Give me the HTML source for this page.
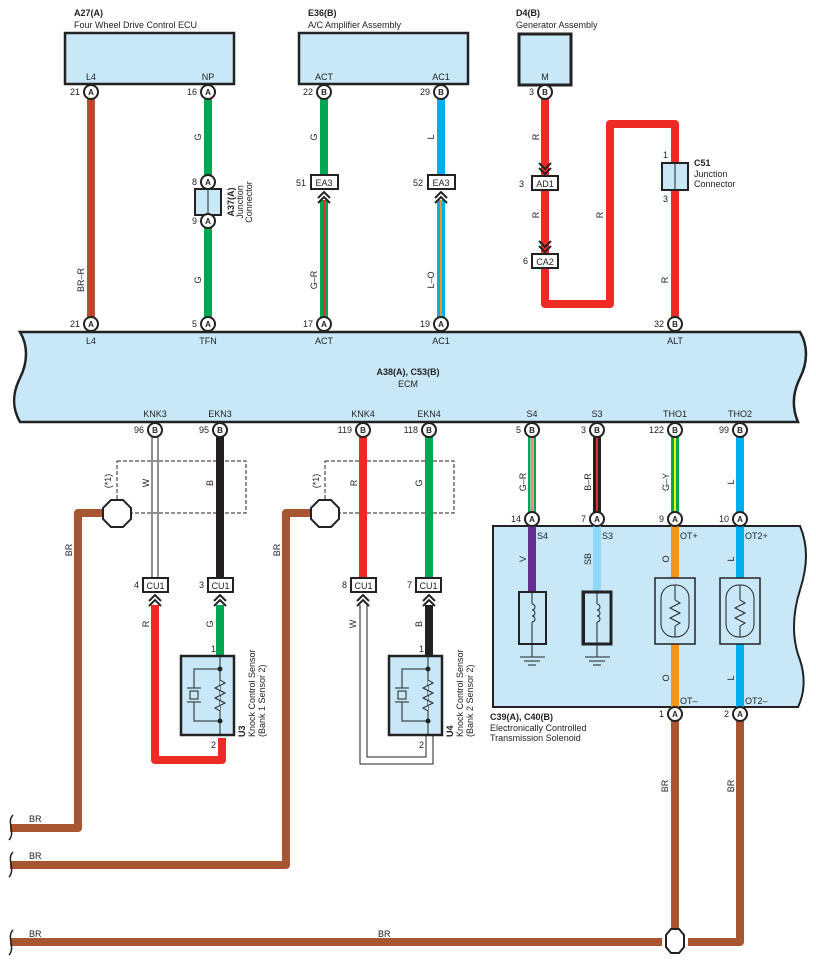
<!DOCTYPE html>
<html><head><meta charset="utf-8"><style>
html,body{margin:0;padding:0;background:#fff;}
svg{display:block;font-family:"Liberation Sans",sans-serif;}
text{font-size:9px;fill:#222;}
.b{font-weight:bold;}
.pin{fill:#fff;stroke:#222;stroke-width:2;}
.pl{font-size:8px;font-weight:bold;text-anchor:middle;}
.box{fill:#c8e8f8;stroke:#222;stroke-width:2.5;}
.w{fill:none;stroke-width:8;stroke-linejoin:round;}
.cb{fill:#fff;stroke:#222;stroke-width:2;}
.ch{fill:none;stroke:#222;stroke-width:2;}
</style></head><body>
<svg width="816" height="966" viewBox="0 0 816 966" xmlns="http://www.w3.org/2000/svg">

<!-- Top component boxes -->
<text x="74" y="16" class="b">A27(A)</text>
<text x="74" y="28">Four Wheel Drive Control ECU</text>
<rect x="65" y="33" width="169" height="51" class="box"/>
<text x="91" y="80" text-anchor="middle">L4</text>
<text x="208" y="80" text-anchor="middle">NP</text>

<text x="308" y="16" class="b">E36(B)</text>
<text x="308" y="28">A/C Amplifier Assembly</text>
<rect x="299" y="33" width="169" height="51" class="box"/>
<text x="324" y="80" text-anchor="middle">ACT</text>
<text x="441" y="80" text-anchor="middle">AC1</text>

<text x="516" y="16" class="b">D4(B)</text>
<text x="516" y="28">Generator Assembly</text>
<rect x="519" y="34" width="52" height="51" class="box" style="stroke-width:3"/>
<text x="545" y="80" text-anchor="middle">M</text>

<!-- Top wires -->
<line x1="91" y1="99" x2="91" y2="318" stroke="#a85632" stroke-width="8"/>
<line x1="91" y1="99" x2="91" y2="318" stroke="#ee2a24" stroke-width="2"/>
<text transform="translate(84,280) rotate(-90)" text-anchor="middle">BR–R</text>

<line x1="208" y1="99" x2="208" y2="176" stroke="#00a651" stroke-width="8"/>
<line x1="208" y1="228" x2="208" y2="318" stroke="#00a651" stroke-width="8"/>
<text transform="translate(201,137) rotate(-90)" text-anchor="middle">G</text>
<text transform="translate(201,280) rotate(-90)" text-anchor="middle">G</text>
<rect x="195" y="189" width="26" height="26" class="box" style="stroke-width:2"/>
<line x1="208" y1="189" x2="208" y2="215" stroke="#222" stroke-width="1"/>
<text transform="translate(234,202) rotate(-90)" text-anchor="middle" class="b">A37(A)</text>
<text transform="translate(243,202) rotate(-90)" text-anchor="middle">Junction</text>
<text transform="translate(252,202) rotate(-90)" text-anchor="middle">Connector</text>

<line x1="324" y1="99" x2="324" y2="176" stroke="#00a651" stroke-width="8"/>
<line x1="324" y1="200" x2="324" y2="318" stroke="#00a651" stroke-width="8"/>
<line x1="324" y1="200" x2="324" y2="318" stroke="#ee2a24" stroke-width="2"/>
<text transform="translate(317,137) rotate(-90)" text-anchor="middle">G</text>
<text transform="translate(317,280) rotate(-90)" text-anchor="middle">G–R</text>

<line x1="441" y1="99" x2="441" y2="176" stroke="#00aeef" stroke-width="8"/>
<line x1="441" y1="200" x2="441" y2="318" stroke="#00aeef" stroke-width="8"/>
<line x1="441" y1="200" x2="441" y2="318" stroke="#f7941d" stroke-width="2"/>
<text transform="translate(434,137) rotate(-90)" text-anchor="middle">L</text>
<text transform="translate(434,280) rotate(-90)" text-anchor="middle">L–O</text>

<!-- generator red -->
<polyline points="545,99 545,175" class="w" stroke="#ee2a24"/>
<polyline points="545,190 545,253" class="w" stroke="#ee2a24"/>
<polyline points="545,268 545,304 610,304 610,124 675,124 675,164" class="w" stroke="#ee2a24"/>
<polyline points="675,190 675,318" class="w" stroke="#ee2a24"/>
<text transform="translate(539,137) rotate(-90)" text-anchor="middle">R</text>
<text transform="translate(539,215) rotate(-90)" text-anchor="middle">R</text>
<text transform="translate(603,215) rotate(-90)" text-anchor="middle">R</text>
<text transform="translate(668,280) rotate(-90)" text-anchor="middle">R</text>
<polyline points="539,163 545,169 551,163" class="ch"/>
<polyline points="539,168 545,174 551,168" class="ch"/>
<polyline points="539,241 545,247 551,241" class="ch"/>
<polyline points="539,246 545,252 551,246" class="ch"/>
<rect x="532" y="176" width="26" height="14" class="cb"/>
<text x="545" y="187" text-anchor="middle">AD1</text>
<text x="524" y="187" text-anchor="end">3</text>
<rect x="532" y="254" width="26" height="14" class="cb"/>
<text x="545" y="265" text-anchor="middle">CA2</text>
<text x="528" y="264" text-anchor="end">6</text>
<rect x="662" y="163" width="26" height="27" class="box" style="stroke-width:2"/>
<line x1="675" y1="163" x2="675" y2="190" stroke="#222" stroke-width="1"/>
<text x="668" y="158" text-anchor="end">1</text>
<text x="668" y="202" text-anchor="end">3</text>
<text x="694" y="166" class="b">C51</text>
<text x="694" y="177">Junction</text>
<text x="694" y="187">Connector</text>

<!-- EA3 boxes -->
<rect x="311" y="175" width="27" height="14" class="cb"/>
<text x="324" y="186" text-anchor="middle">EA3</text>
<text x="306" y="186" text-anchor="end">51</text>
<polyline points="318,198 324,192 330,198" class="ch"/>
<polyline points="318,203 324,197 330,203" class="ch"/>
<rect x="428" y="175" width="27" height="14" class="cb"/>
<text x="441" y="186" text-anchor="middle">EA3</text>
<text x="423" y="186" text-anchor="end">52</text>
<polyline points="435,198 441,192 447,198" class="ch"/>
<polyline points="435,203 441,197 447,203" class="ch"/>

<!-- ECM -->
<path d="M20,332 L800,332 C808,345 808,362 800,378 C792,394 792,408 798,422 L20,422 C12,408 12,394 20,378 C28,362 28,345 20,332 Z" class="box" style="stroke-width:2.5"/>
<text x="408" y="375" text-anchor="middle" class="b">A38(A), C53(B)</text>
<text x="408" y="387" text-anchor="middle">ECM</text>
<text x="91" y="344" text-anchor="middle">L4</text>
<text x="208" y="344" text-anchor="middle">TFN</text>
<text x="324" y="344" text-anchor="middle">ACT</text>
<text x="441" y="344" text-anchor="middle">AC1</text>
<text x="675" y="344" text-anchor="middle">ALT</text>
<text x="155" y="417" text-anchor="middle">KNK3</text>
<text x="220" y="417" text-anchor="middle">EKN3</text>
<text x="363" y="417" text-anchor="middle">KNK4</text>
<text x="429" y="417" text-anchor="middle">EKN4</text>
<text x="532" y="417" text-anchor="middle">S4</text>
<text x="597" y="417" text-anchor="middle">S3</text>
<text x="675" y="417" text-anchor="middle">THO1</text>
<text x="740" y="417" text-anchor="middle">THO2</text>

<!-- Bottom dashed boxes & shields -->
<rect x="117" y="461" width="129" height="52" fill="none" stroke="#222" stroke-width="1" stroke-dasharray="4,2"/>
<rect x="325" y="461" width="129" height="52" fill="none" stroke="#222" stroke-width="1" stroke-dasharray="4,2"/>
<text transform="translate(111,481) rotate(-90)" text-anchor="middle">(*1)</text>
<text transform="translate(319,481) rotate(-90)" text-anchor="middle">(*1)</text>

<!-- BR grounds -->
<polyline points="104,513 78,513 78,828 10,828" class="w" stroke="#a85632"/>
<polyline points="312,513 286,513 286,865 10,865" class="w" stroke="#a85632"/>
<polyline points="675,721 675,930" class="w" stroke="#a85632"/>
<polyline points="10,942 662,942" class="w" stroke="#a85632"/>
<polyline points="740,721 740,942 688,942" class="w" stroke="#a85632"/>
<text transform="translate(72,550) rotate(-90)" text-anchor="middle">BR</text>
<text transform="translate(280,550) rotate(-90)" text-anchor="middle">BR</text>
<text transform="translate(668,786) rotate(-90)" text-anchor="middle">BR</text>
<text transform="translate(734,786) rotate(-90)" text-anchor="middle">BR</text>
<text x="29" y="822">BR</text>
<text x="29" y="859">BR</text>
<text x="29" y="937">BR</text>
<text x="378" y="937">BR</text>
<path d="M13,815 C6,822 16,832 9,840" fill="none" stroke="#222" stroke-width="1.5"/>
<path d="M13,852 C6,859 16,869 9,877" fill="none" stroke="#222" stroke-width="1.5"/>
<path d="M13,930 C6,937 16,947 9,955" fill="none" stroke="#222" stroke-width="1.5"/>

<!-- octagons -->
<polygon points="111,500 123,500 131,508 131,519 123,527 111,527 103,519 103,508" fill="#fff" stroke="#222" stroke-width="2"/>
<polygon points="319,500 331,500 339,508 339,519 331,527 319,527 311,519 311,508" fill="#fff" stroke="#222" stroke-width="2"/>
<polygon points="671,929 679,929 684,935 684,947 679,953 671,953 666,947 666,935" fill="#fff" stroke="#222" stroke-width="2"/>

<!-- KNK3 white -->
<line x1="152" y1="437" x2="152" y2="578" stroke="#222" stroke-width="1"/>
<line x1="158" y1="437" x2="158" y2="578" stroke="#222" stroke-width="1"/>
<text transform="translate(149,483) rotate(-90)" text-anchor="middle">W</text>
<line x1="220" y1="437" x2="220" y2="578" stroke="#231f20" stroke-width="8"/>
<text transform="translate(213,483) rotate(-90)" text-anchor="middle">B</text>
<polyline points="155,605 155,760 222,760 222,738" class="w" stroke="#ee2a24"/>
<text transform="translate(149,624) rotate(-90)" text-anchor="middle">R</text>
<line x1="220" y1="605" x2="220" y2="656" stroke="#00a651" stroke-width="8"/>
<text transform="translate(213,624) rotate(-90)" text-anchor="middle">G</text>

<!-- KNK4 -->
<line x1="363" y1="437" x2="363" y2="578" stroke="#ee2a24" stroke-width="8"/>
<text transform="translate(357,483) rotate(-90)" text-anchor="middle">R</text>
<line x1="429" y1="437" x2="429" y2="578" stroke="#00a651" stroke-width="8"/>
<text transform="translate(422,483) rotate(-90)" text-anchor="middle">G</text>
<polyline points="360,605 360,764 433,764 433,736" fill="none" stroke="#222" stroke-width="1"/>
<polyline points="367,605 367,757 426,757 426,736" fill="none" stroke="#222" stroke-width="1"/>
<text transform="translate(356,624) rotate(-90)" text-anchor="middle">W</text>
<line x1="429" y1="605" x2="429" y2="656" stroke="#231f20" stroke-width="8"/>
<text transform="translate(422,624) rotate(-90)" text-anchor="middle">B</text>

<!-- CU1 boxes -->
<g>
<rect x="143" y="578" width="25" height="14" class="cb"/><text x="155.5" y="589" text-anchor="middle">CU1</text><text x="139" y="588" text-anchor="end">4</text>
<rect x="208" y="578" width="25" height="14" class="cb"/><text x="220.5" y="589" text-anchor="middle">CU1</text><text x="204" y="588" text-anchor="end">3</text>
<rect x="351" y="578" width="25" height="14" class="cb"/><text x="363.5" y="589" text-anchor="middle">CU1</text><text x="347" y="588" text-anchor="end">8</text>
<rect x="416" y="578" width="25" height="14" class="cb"/><text x="428.5" y="589" text-anchor="middle">CU1</text><text x="412" y="588" text-anchor="end">7</text>
</g>
<g class="ch">
<polyline points="149,601 155,595 161,601"/><polyline points="149,606 155,600 161,606"/>
<polyline points="214,601 220,595 226,601"/><polyline points="214,606 220,600 226,606"/>
<polyline points="357,601 363,595 369,601"/><polyline points="357,606 363,600 369,606"/>
<polyline points="423,601 429,595 435,601"/><polyline points="423,606 429,600 435,606"/>
</g>

<!-- knock sensors -->
<g id="ks">
<rect x="181" y="656" width="53" height="79" class="box" style="stroke-width:2.5"/>
<line x1="220" y1="656" x2="220" y2="735" stroke="#222" stroke-width="1"/>
<circle cx="220" cy="669" r="2.5" fill="#222"/><circle cx="220" cy="721" r="2.5" fill="#222"/>
<polyline points="220,669 194,669 194,688" fill="none" stroke="#222" stroke-width="1"/>
<polyline points="220,721 194,721 194,702" fill="none" stroke="#222" stroke-width="1"/>
<line x1="187" y1="688" x2="201" y2="688" stroke="#222" stroke-width="1"/>
<line x1="187" y1="702" x2="201" y2="702" stroke="#222" stroke-width="1"/>
<rect x="190" y="691" width="8" height="8" fill="none" stroke="#222" stroke-width="1"/>
<polyline points="220,680 225,683 215,688 225,693 215,698 225,703 215,708 220,711" fill="#c8e8f8" stroke="#222" stroke-width="1"/>
</g>
<use href="#ks" transform="translate(208,0)"/>
<text x="216" y="652" text-anchor="end">1</text><text x="216" y="748" text-anchor="end">2</text>
<text x="424" y="652" text-anchor="end">1</text><text x="424" y="748" text-anchor="end">2</text>
<text transform="translate(245,737) rotate(-90)" class="b">U3</text>
<text transform="translate(255,737) rotate(-90)">Knock Control Sensor</text>
<text transform="translate(265,737) rotate(-90)">(Bank 1 Sensor 2)</text>
<text transform="translate(453,737) rotate(-90)" class="b">U4</text>
<text transform="translate(463,737) rotate(-90)">Knock Control Sensor</text>
<text transform="translate(473,737) rotate(-90)">(Bank 2 Sensor 2)</text>

<!-- solenoid wires above box -->
<line x1="532" y1="437" x2="532" y2="512" stroke="#00a651" stroke-width="8"/>
<line x1="532" y1="437" x2="532" y2="512" stroke="#fff" stroke-width="3"/>
<line x1="532" y1="437" x2="532" y2="512" stroke="#ee2a24" stroke-width="1.2"/>
<line x1="597" y1="437" x2="597" y2="512" stroke="#231f20" stroke-width="8"/>
<line x1="597" y1="437" x2="597" y2="512" stroke="#ee2a24" stroke-width="2"/>
<line x1="675" y1="437" x2="675" y2="512" stroke="#00a651" stroke-width="8"/>
<line x1="675" y1="437" x2="675" y2="512" stroke="#fff200" stroke-width="2"/>
<line x1="740" y1="437" x2="740" y2="512" stroke="#00aeef" stroke-width="8"/>
<text transform="translate(526,482) rotate(-90)" text-anchor="middle">G–R</text>
<text transform="translate(591,482) rotate(-90)" text-anchor="middle">B–R</text>
<text transform="translate(669,482) rotate(-90)" text-anchor="middle">G–Y</text>
<text transform="translate(734,482) rotate(-90)" text-anchor="middle">L</text>

<!-- solenoid box -->
<path d="M493,526 L800,526 C808,545 808,565 800,590 C792,615 792,640 800,660 C806,678 804,695 798,707 L493,707 Z" class="box" style="stroke-width:2"/>
<line x1="532" y1="526" x2="532" y2="592" stroke="#662d91" stroke-width="8"/>
<line x1="597" y1="526" x2="597" y2="592" stroke="#8dd8f8" stroke-width="8"/>
<line x1="675" y1="526" x2="675" y2="707" stroke="#f7941d" stroke-width="8"/>
<line x1="740" y1="526" x2="740" y2="707" stroke="#00aeef" stroke-width="8"/>
<text x="537" y="539">S4</text><text x="602" y="539">S3</text>
<text x="680" y="539">OT+</text><text x="745" y="539">OT2+</text>
<text x="680" y="704">OT–</text><text x="745" y="704">OT2–</text>
<text transform="translate(526,559) rotate(-90)" text-anchor="middle">V</text>
<text transform="translate(591,559) rotate(-90)" text-anchor="middle">SB</text>
<text transform="translate(669,559) rotate(-90)" text-anchor="middle">O</text>
<text transform="translate(734,559) rotate(-90)" text-anchor="middle">L</text>
<text transform="translate(669,678) rotate(-90)" text-anchor="middle">O</text>
<text transform="translate(734,678) rotate(-90)" text-anchor="middle">L</text>

<g id="sol">
<rect x="519" y="592" width="27" height="52" fill="#c8e8f8" stroke="#222" stroke-width="2"/>
<line x1="532" y1="592" x2="532" y2="604" stroke="#222" stroke-width="1"/>
<path d="M532,604 a3,3 0 1 1 0,6 a3,3 0 1 1 0,6 a3,3 0 1 1 0,6" fill="none" stroke="#222" stroke-width="1"/>
<line x1="532" y1="622" x2="532" y2="657" stroke="#222" stroke-width="1"/>
<line x1="520" y1="657" x2="545" y2="657" stroke="#222" stroke-width="1"/>
<line x1="524" y1="661" x2="540" y2="661" stroke="#222" stroke-width="1"/>
<line x1="528" y1="665" x2="536" y2="665" stroke="#222" stroke-width="1"/>
</g>
<use href="#sol" transform="translate(65,0)"/>
<rect x="583" y="592" width="28" height="52" fill="none" stroke="#222" stroke-width="3"/>

<g id="th">
<rect x="655" y="578" width="40" height="66" fill="#c8e8f8" stroke="#222" stroke-width="1.5"/>
<rect x="661" y="585" width="28" height="52" rx="13" fill="#c8e8f8" stroke="#222" stroke-width="1"/>
<line x1="675" y1="585" x2="675" y2="600" stroke="#222" stroke-width="1"/>
<polyline points="675,600 680,603 670,608 680,613 670,618 680,623 675,626" fill="none" stroke="#222" stroke-width="1"/>
<line x1="675" y1="626" x2="675" y2="637" stroke="#222" stroke-width="1"/>
</g>
<use href="#th" transform="translate(65,0)"/>

<text x="490" y="720" class="b">C39(A), C40(B)</text>
<text x="490" y="731">Electronically Controlled</text>
<text x="490" y="741">Transmission Solenoid</text>

<!-- pins -->
<g id="pins">
<circle cx="91" cy="92" r="7" class="pin"/><text x="91" y="95" class="pl">A</text><text x="80" y="95" text-anchor="end">21</text>
<circle cx="208" cy="92" r="7" class="pin"/><text x="208" y="95" class="pl">A</text><text x="197" y="95" text-anchor="end">16</text>
<circle cx="324" cy="92" r="7" class="pin"/><text x="324" y="95" class="pl">B</text><text x="313" y="95" text-anchor="end">22</text>
<circle cx="441" cy="92" r="7" class="pin"/><text x="441" y="95" class="pl">B</text><text x="430" y="95" text-anchor="end">29</text>
<circle cx="545" cy="92" r="7" class="pin"/><text x="545" y="95" class="pl">B</text><text x="534" y="95" text-anchor="end">3</text>
<circle cx="208" cy="182" r="7" class="pin"/><text x="208" y="185" class="pl">A</text><text x="197" y="185" text-anchor="end">8</text>
<circle cx="208" cy="221" r="7" class="pin"/><text x="208" y="224" class="pl">A</text><text x="197" y="224" text-anchor="end">9</text>
<circle cx="91" cy="324" r="7" class="pin"/><text x="91" y="327" class="pl">A</text><text x="80" y="327" text-anchor="end">21</text>
<circle cx="208" cy="324" r="7" class="pin"/><text x="208" y="327" class="pl">A</text><text x="197" y="327" text-anchor="end">5</text>
<circle cx="324" cy="324" r="7" class="pin"/><text x="324" y="327" class="pl">A</text><text x="313" y="327" text-anchor="end">17</text>
<circle cx="441" cy="324" r="7" class="pin"/><text x="441" y="327" class="pl">A</text><text x="430" y="327" text-anchor="end">19</text>
<circle cx="675" cy="324" r="7" class="pin"/><text x="675" y="327" class="pl">B</text><text x="664" y="327" text-anchor="end">32</text>
<circle cx="155" cy="430" r="7" class="pin"/><text x="155" y="433" class="pl">B</text><text x="144" y="433" text-anchor="end">96</text>
<circle cx="220" cy="430" r="7" class="pin"/><text x="220" y="433" class="pl">B</text><text x="209" y="433" text-anchor="end">95</text>
<circle cx="363" cy="430" r="7" class="pin"/><text x="363" y="433" class="pl">B</text><text x="352" y="433" text-anchor="end">119</text>
<circle cx="429" cy="430" r="7" class="pin"/><text x="429" y="433" class="pl">B</text><text x="418" y="433" text-anchor="end">118</text>
<circle cx="532" cy="430" r="7" class="pin"/><text x="532" y="433" class="pl">B</text><text x="521" y="433" text-anchor="end">5</text>
<circle cx="597" cy="430" r="7" class="pin"/><text x="597" y="433" class="pl">B</text><text x="586" y="433" text-anchor="end">3</text>
<circle cx="675" cy="430" r="7" class="pin"/><text x="675" y="433" class="pl">B</text><text x="664" y="433" text-anchor="end">122</text>
<circle cx="740" cy="430" r="7" class="pin"/><text x="740" y="433" class="pl">B</text><text x="729" y="433" text-anchor="end">99</text>
<circle cx="532" cy="519" r="7" class="pin"/><text x="532" y="522" class="pl">A</text><text x="521" y="522" text-anchor="end">14</text>
<circle cx="597" cy="519" r="7" class="pin"/><text x="597" y="522" class="pl">A</text><text x="586" y="522" text-anchor="end">7</text>
<circle cx="675" cy="519" r="7" class="pin"/><text x="675" y="522" class="pl">A</text><text x="664" y="522" text-anchor="end">9</text>
<circle cx="740" cy="519" r="7" class="pin"/><text x="740" y="522" class="pl">A</text><text x="729" y="522" text-anchor="end">10</text>
<circle cx="675" cy="714" r="7" class="pin"/><text x="675" y="717" class="pl">A</text><text x="664" y="717" text-anchor="end">1</text>
<circle cx="740" cy="714" r="7" class="pin"/><text x="740" y="717" class="pl">A</text><text x="729" y="717" text-anchor="end">2</text>
</g>
</svg>
</body></html>
